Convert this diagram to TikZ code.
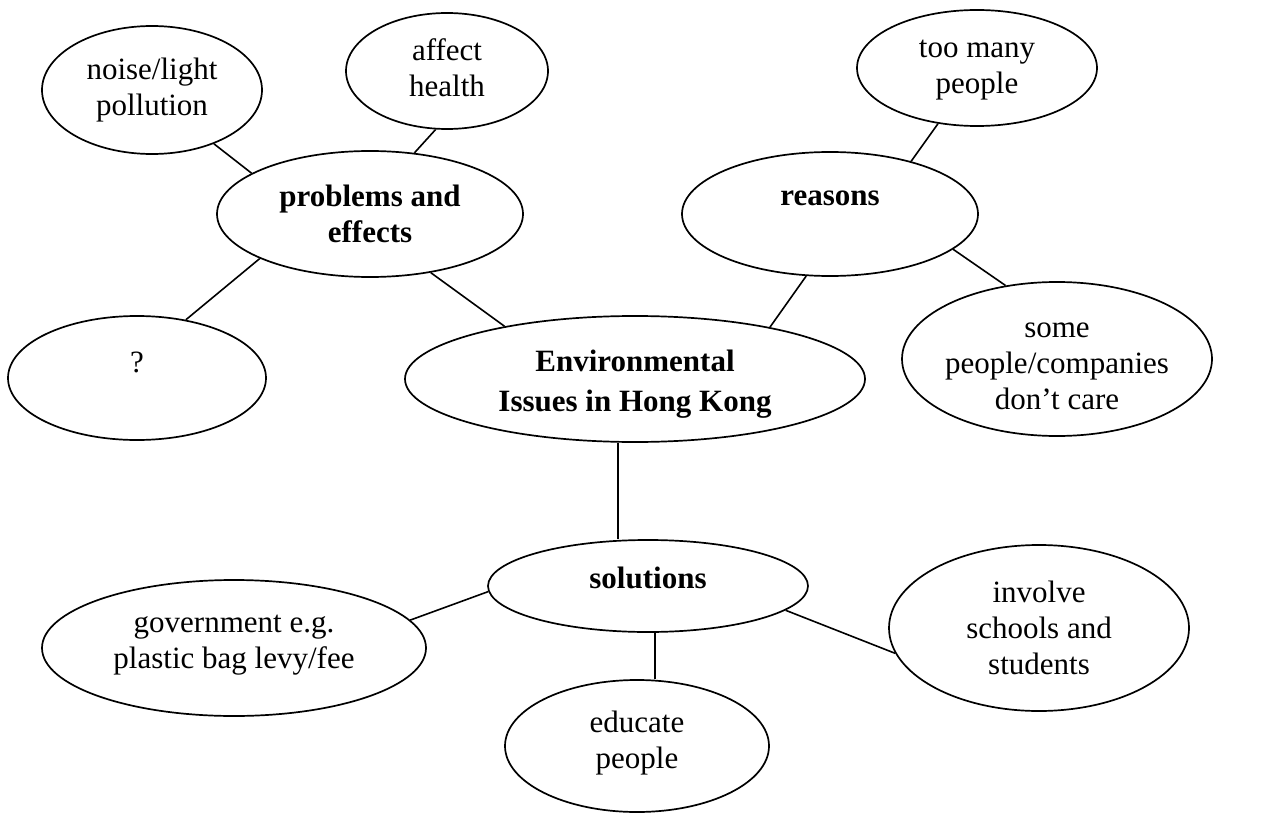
\documentclass[tikz,border=0pt]{standalone}
\usepackage{fontspec}
\setmainfont{Liberation Serif}
\usetikzlibrary{shapes.geometric,calc}
\tikzset{
  bubble/.style={draw, ellipse, line width=1.7pt, inner sep=0pt},
  label text/.style={align=center, inner sep=0pt, font=\fontsize{31}{36}\selectfont},
  bold text/.style={label text, font=\fontsize{31}{36}\selectfont\bfseries},
  link/.style={line width=1.6pt}
}
\begin{document}
\begin{tikzpicture}[x=1pt,y=-1pt]
\useasboundingbox (0,0) rectangle (1263,813);
% ellipses
\node[bubble, minimum width=220, minimum height=128] (noise) at (152,90) {};
\node[bubble, minimum width=202, minimum height=116] (affect) at (447,71) {};
\node[bubble, minimum width=306, minimum height=126] (prob) at (370,214) {};
\node[bubble, minimum width=258, minimum height=124] (q) at (137,378) {};
\node[bubble, minimum width=240, minimum height=116] (many) at (977,68) {};
\node[bubble, minimum width=296, minimum height=124] (reas) at (830,214) {};
\node[bubble, minimum width=310, minimum height=154] (care) at (1057,359) {};
\node[bubble, minimum width=460, minimum height=126] (env) at (635,379) {};
\node[bubble, minimum width=320, minimum height=92] (sol) at (648,586) {};
\node[bubble, minimum width=384, minimum height=136] (gov) at (234,648) {};
\node[bubble, minimum width=264, minimum height=132] (edu) at (637,746) {};
\node[bubble, minimum width=300, minimum height=166] (inv) at (1039,628) {};
% texts
\node[label text] (tnoise) at (152,90) {noise/light\\pollution};
\node[label text] (taffect) at (447,68) {affect\\health};
\node[bold text] (tprob) at (370,214) {problems and\\effects};
\node[label text] (tq) at (137,362) {?};
\node[label text] (tmany) at (977,70) {too many\\people};
\node[bold text] (treas) at (830,198) {reasons};
\node[label text] (tcare) at (1057,366) {some\\people/companies\\don’t care};
\node[bold text, font=\fontsize{31}{40}\selectfont\bfseries] (tenv) at (635,384) {Environmental\\Issues in Hong Kong};
\node[bold text] (tsol) at (648,578) {solutions};
\node[label text] (tgov) at (234,645) {government e.g.\\plastic bag levy/fee};
\node[label text] (tedu) at (637,743) {educate\\people};
\node[label text] (tinv) at (1039,628) {involve\\schools and\\students};
% connectors
\draw[link] (noise.-41) -- (prob.161);
\draw[link] (affect.-101) -- (prob.54);
\draw[link] (prob.-158) -- (q.50);
\draw[link] (prob.-44) -- (env.158);
\draw[link] (many.-125) -- (reas.33);
\draw[link] (reas.-111) -- (env.21);
\draw[link] (reas.-16) -- (care.125);
\coordinate (envdown) at ([xshift=-17pt]env.south);
\draw[link] (envdown) -- (envdown |- sol.north);
\draw[link] (sol.182) -- (gov.9);
\coordinate (soldown) at ([xshift=7pt]sol.south);
\draw[link] (soldown) -- (soldown |- edu.north);
\draw[link] (sol.-10) -- (inv.190);
\end{tikzpicture}
\end{document}
